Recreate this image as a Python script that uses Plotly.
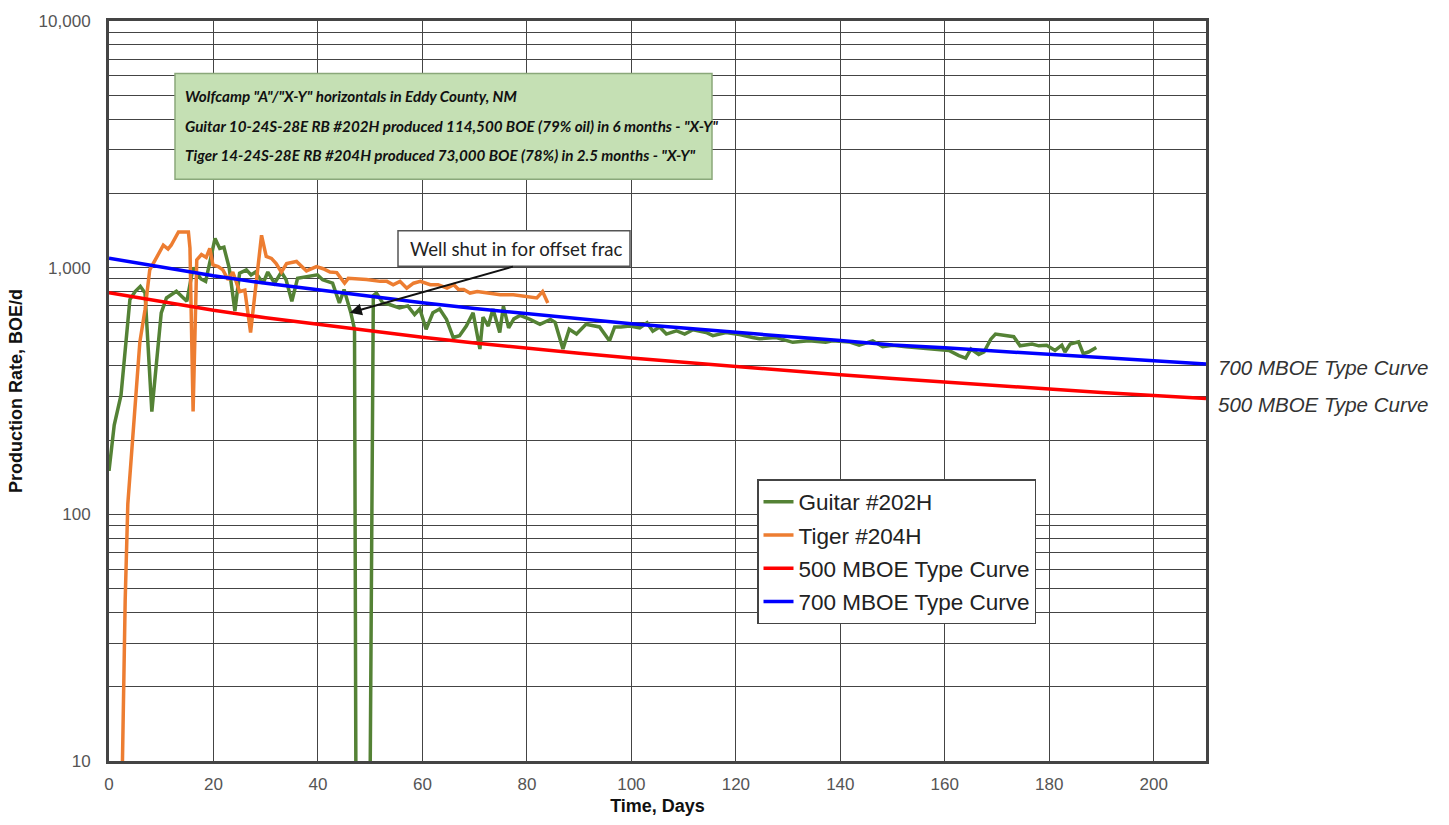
import plotly.graph_objects as go

# ---------------- data ----------------
guitar_days = [0, 1, 2.3, 3.4, 4, 5, 6, 6.9, 8.2, 10, 11, 12.9, 14.9, 16.1, 17.6, 18.5, 20.3, 21.2, 22, 23,
               24.1, 25, 26.3, 27.2, 28, 29.5, 30.4, 31.7, 33, 33.9, 35, 36.1, 38.3, 39.9, 40.9, 42.8, 44.1, 45,
               46.3, 47, 47.4, 49.7, 50.6, 51.2, 52.4, 53.7, 55.6, 57.2, 58.5, 59.5, 60.7, 62, 63.3, 64.6, 65.9,
               67.1, 68.4, 69.7, 71, 71.6, 72.6, 73.5, 74.8, 75.5, 76.5, 77.5, 78.7, 80.6, 82.5, 84.5, 85.4, 86.9,
               88.1, 89.5, 91.3, 92.6, 93.9, 95.8, 96.8, 98, 99.7, 101.6, 103, 104.1, 105.4, 106.7, 108.6, 110.2,
               111.8, 114.3, 115.6, 118.1, 120.7, 123.2, 124.5, 127.7, 130.9, 134, 137.2, 138.5, 141.7, 143.6,
               146.2, 148.1, 150, 152.6, 155.1, 158.2, 160.8, 162.7, 164, 165, 166.5, 167.5, 168.8, 169.7, 171.6,
               173.2, 174.4, 176.7, 178, 179.5, 181.1, 182.4, 183, 184, 185.6, 186.5, 187.5, 189]
guitar_rate = [150, 230, 304, 546, 742, 800, 840, 789, 261, 656, 754, 802, 731, 1000, 900, 880, 1313, 1197, 1210, 1000,
               667, 950, 980, 935, 960, 865, 960, 865, 960, 893, 730, 905, 920, 935, 893, 865, 719, 815,
               656, 563, 1, 1, 770, 789, 719, 709, 687, 700, 646, 680, 563, 656, 680, 617, 521,
               530, 580, 656, 468, 630, 580, 680, 546, 698, 570, 620, 640, 617, 589, 617, 600, 468,
               563, 538, 589, 580, 575, 505, 575, 575, 580, 570, 598, 553, 575, 538, 555, 538,
               560, 546, 530, 546, 536, 521, 515, 521, 498, 505, 498, 505, 500, 485,
               505, 478, 485, 478, 472, 468, 462, 440, 430, 468, 445, 455, 513, 538, 530,
               525, 482, 490, 482, 485, 462, 485, 455, 490, 500, 448, 455, 475]

tiger_days = [2.5, 3.1, 3.6, 4.6, 5.9, 6.9, 7.8, 10.4, 11.3, 11.9, 13.3, 15.2, 15.5, 16.1, 16.8, 17.7, 18.6, 19.3,
              19.9, 20.9, 21.8, 22.8, 23.7, 25, 26, 27.1, 28.2, 29.2, 30.1, 31.1, 32, 33, 34, 35.9, 37.8, 39.7,
              41, 42.3, 43.6, 44.2, 45.1, 45.8, 49.3, 51.9, 53.2, 54.4, 55.7, 57, 58.3, 59.6, 61.5, 63, 64.7,
              66, 66.9, 67.9, 69.1, 70.5, 72.3, 74.9, 77.4, 80, 81.9, 83, 84]
tiger_rate = [8, 45, 110, 204, 498, 677, 980, 1233, 1190, 1233, 1396, 1396, 1200, 261, 1075, 1130, 1100, 1197,
              1026, 1010, 980, 893, 960, 800, 810, 546, 900, 1353, 1110, 1090, 1040, 960, 1040, 1060, 970, 1010,
              990, 960, 955, 920, 865, 905, 895, 880, 880, 853, 880, 826, 865, 880, 853, 853, 826,
              853, 815, 815, 789, 800, 789, 776, 776, 766, 754, 800, 719]

type_days = [0, 10, 20, 30, 40, 50, 60, 70, 80, 90, 100, 110, 120, 130, 140, 150, 160, 170, 180, 190, 200, 210]
tc500 = [792, 727, 672, 626, 588, 552, 522, 495, 471, 450, 430, 413, 396, 381, 368, 355, 343, 332, 322, 312, 304, 295]
tc700 = [1092, 1003, 927, 864, 811, 762, 720, 683, 650, 620, 593, 569, 546, 526, 507, 486, 473, 458, 444, 431, 419, 407]

series_names = ["Guitar #202H", "Tiger #204H", "500 MBOE Type Curve", "700 MBOE Type Curve"]
series_colors = ["#548235", "#ed7d31", "#ff0000", "#0000ff"]

y_decades = [10, 100, 1000, 10000]
y_decade_labels = ["10", "100", "1,000", "10,000"]

title_lines = ['Wolfcamp "A"/"X-Y" horizontals in Eddy County, NM',
               'Guitar 10-24S-28E RB #202H produced 114,500 BOE (79% oil) in 6 months - "X-Y"',
               'Tiger 14-24S-28E RB #204H produced 73,000 BOE (78%) in 2.5 months - "X-Y"']

# ---------------- figure ----------------
W, H = 1449, 825
L, R, T, B = 109, 1206, 15, 763


def px_x(p):
    return (p - L) / (R - L)


def px_y(p):
    return (B - p) / (B - T)


fig = go.Figure()
xs = [guitar_days, tiger_days, type_days, type_days]
ys = [guitar_rate, tiger_rate, tc500, tc700]
for i, (name, col, x, y) in enumerate(zip(series_names, series_colors, xs, ys)):
    fig.add_trace(go.Scatter(x=x, y=y, mode="lines", name=name, legendgroup=f"g{i}",
                             line=dict(color=col, width=3.5)))

# y tick/grid values: every 1..9 multiple in each decade
y_tickvals, y_ticktext = [], []
for d in y_decades[:-1]:
    for m in range(1, 10):
        y_tickvals.append(m * d)
        y_ticktext.append(y_decade_labels[y_decades.index(d)] if m == 1 else "")
y_tickvals.append(y_decades[-1])
y_ticktext.append(y_decade_labels[-1])

tickfont = dict(family="Liberation Sans", size=17, color="#555555")
titlefont = dict(family="Liberation Sans", size=18, color="#111111", weight="bold")

fig.update_layout(
    width=W, height=H,
    margin=dict(l=L, r=W - R, t=T, b=H - B),
    paper_bgcolor="white", plot_bgcolor="white",
    showlegend=True,
    legend=dict(x=px_x(757), y=px_y(478), xanchor="left", yanchor="top",
                bgcolor="white", bordercolor="#444444", borderwidth=1.5,
                font=dict(family="Liberation Sans", size=22.5, color="#222222"),
                tracegroupgap=1, itemwidth=30),
    xaxis=dict(range=[0, 210], dtick=20, tick0=0, showgrid=True, gridcolor="#444444", gridwidth=1.3,
               zeroline=False, showline=True, linecolor="#444444", linewidth=3, mirror=True,
               ticks="", tickfont=tickfont, ticklabelstandoff=6,
               title=dict(text="Time, Days", font=titlefont, standoff=6)),
    yaxis=dict(type="log", range=[1, 4], tickvals=y_tickvals, ticktext=y_ticktext,
               showgrid=True, gridcolor="#444444", gridwidth=1.3,
               zeroline=False, showline=True, linecolor="#444444", linewidth=3, mirror=True,
               ticks="", tickfont=tickfont, ticklabelstandoff=12,
               title=dict(text="Production Rate, BOE/d", font=titlefont, standoff=12)),
)

# Title box (shape) + lines of text
fig.add_shape(type="rect", xref="paper", yref="paper",
              x0=px_x(175), x1=px_x(712), y0=px_y(175), y1=px_y(68),
              fillcolor="#c5e0b4", line=dict(color="#8aa87a", width=1.5), layer="above")
for line, ypx in zip(title_lines, [91, 121, 150]):
    fig.add_annotation(
        xref="paper", yref="paper", x=px_x(183), y=px_y(ypx),
        xanchor="left", yanchor="middle", showarrow=False, align="left", text=line,
        font=dict(family="Lato", size=15.2, color="#111111", style="italic", weight="bold"),
    )

# Shut-in callout box
fig.add_shape(type="rect", xref="paper", yref="paper",
              x0=px_x(398), x1=px_x(630), y0=px_y(263), y1=px_y(227),
              fillcolor="white", line=dict(color="#555555", width=1.5), layer="above")
fig.add_annotation(
    xref="paper", yref="paper", x=px_x(516), y=px_y(245),
    xanchor="center", yanchor="middle", showarrow=False,
    text="Well shut in for offset frac",
    font=dict(family="Lato", size=18.6, color="#222222"),
)
# Arrow
fig.add_annotation(
    x=46.1, y=2.817, xref="x", yref="y", ax=77.6, ay=3.006, axref="x", ayref="y",
    text="", showarrow=True, arrowhead=2, arrowsize=1.2, arrowwidth=2, arrowcolor="#111111",
)

# Right-side curve labels
for label, ypx in [("700 MBOE Type Curve", 365), ("500 MBOE Type Curve", 403)]:
    fig.add_annotation(
        xref="paper", yref="paper", x=px_x(1216), y=px_y(ypx),
        xanchor="left", yanchor="middle", showarrow=False, text=label,
        font=dict(family="Liberation Sans", size=20.5, color="#333333", style="italic"),
    )

fig.write_html("out.html")
